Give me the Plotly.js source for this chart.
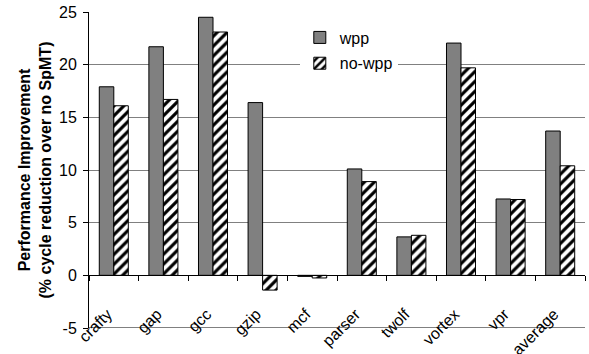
<!DOCTYPE html>
<html>
<head>
<meta charset="utf-8">
<script src="https://cdn.plot.ly/plotly-3.0.1.min.js"></script>
<style>html,body{margin:0;padding:0;background:#fff;}#chart{width:589px;height:354px;}</style>
</head>
<body>
<div id="chart"></div>
<script>
const categories = ['crafty','gap','gcc','gzip','mcf','parser','twolf','vortex','vpr','average'];
const wpp = [17.9, 21.7, 24.5, 16.4, -0.1, 10.1, 3.65, 22.05, 7.25, 13.7];
const noWpp = [16.1, 16.7, 23.1, -1.4, -0.25, 8.9, 3.8, 19.7, 7.2, 10.4];
const yTickVals = [-5, 0, 5, 10, 15, 20, 25];
const yTickText = ['-5', '0', '5', '10', '15', '20', '25'];

const fam = '"Liberation Sans", Arial, sans-serif';
const font = {family: fam, size: 16, color: '#000'};

const traces = [
  {type: 'bar', name: 'wpp', x: categories, y: wpp, legendgroup: 'a',
   marker: {color: '#808080', line: {color: '#000', width: 1}}},
  {type: 'bar', name: 'no-wpp', x: categories, y: noWpp, legendgroup: 'b',
   marker: {color: '#fff', line: {color: '#000', width: 1},
            pattern: {shape: '/', fgcolor: '#000', bgcolor: '#fff', size: 7, solidity: 0.45}}}
];

const layout = {
  width: 589, height: 354,
  margin: {l: 89, r: 4, t: 12, b: 26},
  paper_bgcolor: '#fff', plot_bgcolor: '#fff',
  font: font,
  barmode: 'group', bargap: 0.415, bargroupgap: 0,
  showlegend: true,
  legend: {x: 0.425, y: 0.973, xanchor: 'left', yanchor: 'top',
           bgcolor: '#fff', borderwidth: 0, font: {family: fam, size: 16, color: '#000'},
           traceorder: 'grouped', tracegroupgap: 2},
  xaxis: {type: 'category', anchor: 'free', position: 1/6,
          tickvals: categories, ticktext: categories.map(c => c + '\u00a0\u00a0'),
          showline: true, linecolor: '#000', linewidth: 1,
          ticks: 'outside', ticklen: 5, tickcolor: '#000', tickson: 'boundaries',
          tickangle: -45, ticklabelstandoff: 16, showgrid: false, zeroline: false, automargin: false,
          tickfont: {family: fam, size: 16, color: '#000'}},
  yaxis: {range: [-5, 25], tickvals: yTickVals, ticktext: yTickText,
          showline: true, linecolor: '#000', linewidth: 1,
          ticks: 'outside', ticklen: 5, tickcolor: '#000', ticklabelstandoff: 3,
          showgrid: true, gridcolor: '#808080', gridwidth: 1,
          zeroline: true, zerolinecolor: '#000', zerolinewidth: 1,
          automargin: false, tickfont: {family: fam, size: 16, color: '#000'},
          title: {text: '<b>Performance Improvement</b><br><b>(% cycle reduction over no SpMT)</b>',
                  font: {family: fam, size: 16, color: '#000'}, standoff: 3}},
  shapes: [{type: 'line', xref: 'paper', x0: 0, x1: 1, yref: 'y', y0: -5, y1: -5,
            line: {color: '#000', width: 1}}]
};

Plotly.newPlot('chart', traces, layout, {displayModeBar: false, staticPlot: true});
</script>
</body>
</html>
